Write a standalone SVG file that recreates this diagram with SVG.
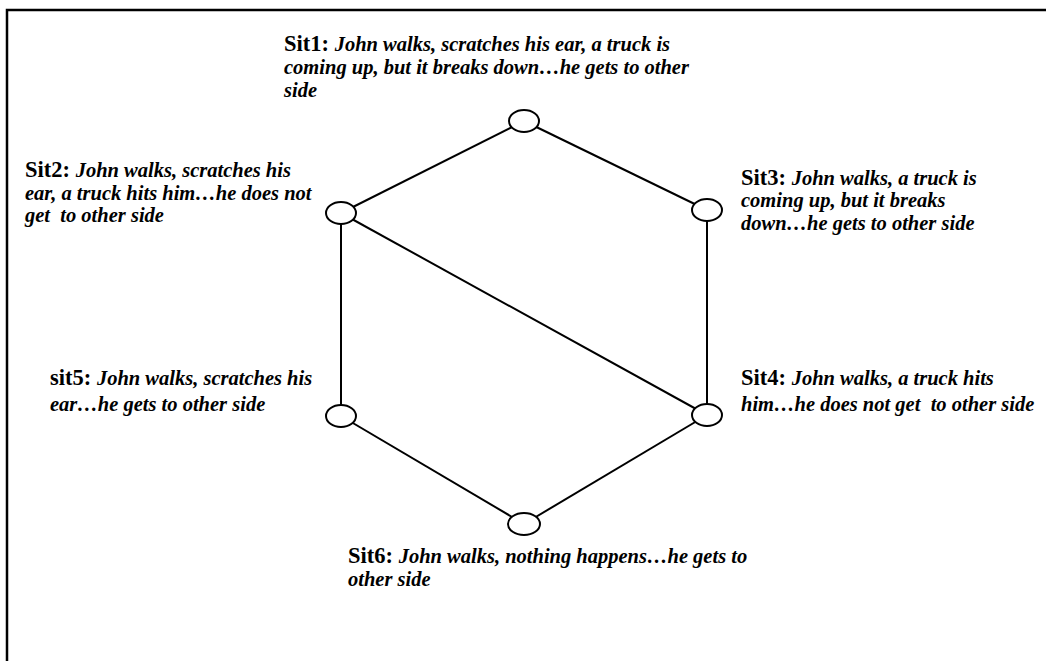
<svg xmlns="http://www.w3.org/2000/svg" width="1046" height="661" viewBox="0 0 1046 661">
<style>
.t{font-family:"Liberation Serif","Times New Roman",serif;font-size:20.5px;font-weight:bold;font-style:italic;fill:#000;white-space:pre}
.h{font-style:normal;font-size:22.5px}
.n{fill:#fff;stroke:#000;stroke-width:2}
.c line{stroke:#000;stroke-width:2}
</style>
<rect width="1046" height="661" fill="#fff"/>
<path d="M7,661 V10 H1046" fill="none" stroke="#000" stroke-width="2.5"/>
<g class="c" id="connectors">
<line x1="524" y1="121" x2="341" y2="213"/>
<line x1="524" y1="121" x2="707" y2="210"/>
<line x1="341" y1="213" x2="341" y2="416"/>
<line x1="707" y1="210" x2="707" y2="415"/>
<line x1="341" y1="213" x2="707" y2="415"/>
<line x1="341" y1="416" x2="524" y2="524"/>
<line x1="707" y1="415" x2="524" y2="524"/>
</g>
<g id="sit1"><ellipse class="n" cx="524" cy="121" rx="15" ry="11"/>
<text class="t" x="284" y="51"><tspan class="h">Sit1: </tspan>John walks, scratches his ear, a truck is</text>
<text class="t" x="284" y="74">coming up, but it breaks down…he gets to other</text>
<text class="t" x="284" y="97">side</text></g>
<g id="sit2"><ellipse class="n" cx="341" cy="213" rx="15" ry="11"/>
<text class="t" x="25" y="177"><tspan class="h">Sit2: </tspan>John walks, scratches his</text>
<text class="t" x="25" y="200">ear, a truck hits him…he does not</text>
<text class="t" x="25" y="222">get  to other side</text></g>
<g id="sit3"><ellipse class="n" cx="707" cy="210" rx="15" ry="11"/>
<text class="t" x="741" y="185"><tspan class="h">Sit3: </tspan>John walks, a truck is</text>
<text class="t" x="741" y="207">coming up, but it breaks</text>
<text class="t" x="741" y="230">down…he gets to other side</text></g>
<g id="sit5"><ellipse class="n" cx="341" cy="416" rx="15" ry="11"/>
<text class="t" x="50" y="385"><tspan class="h">sit5: </tspan>John walks, scratches his</text>
<text class="t" x="50" y="411">ear…he gets to other side</text></g>
<g id="sit4"><ellipse class="n" cx="707" cy="415" rx="15" ry="11"/>
<text class="t" x="741" y="385"><tspan class="h">Sit4: </tspan>John walks, a truck hits</text>
<text class="t" x="741" y="411">him…he does not get  to other side</text></g>
<g id="sit6"><ellipse class="n" cx="524" cy="524" rx="16" ry="11"/>
<text class="t" x="348" y="563"><tspan class="h">Sit6: </tspan>John walks, nothing happens…he gets to</text>
<text class="t" x="348" y="586">other side</text></g>
</svg>
